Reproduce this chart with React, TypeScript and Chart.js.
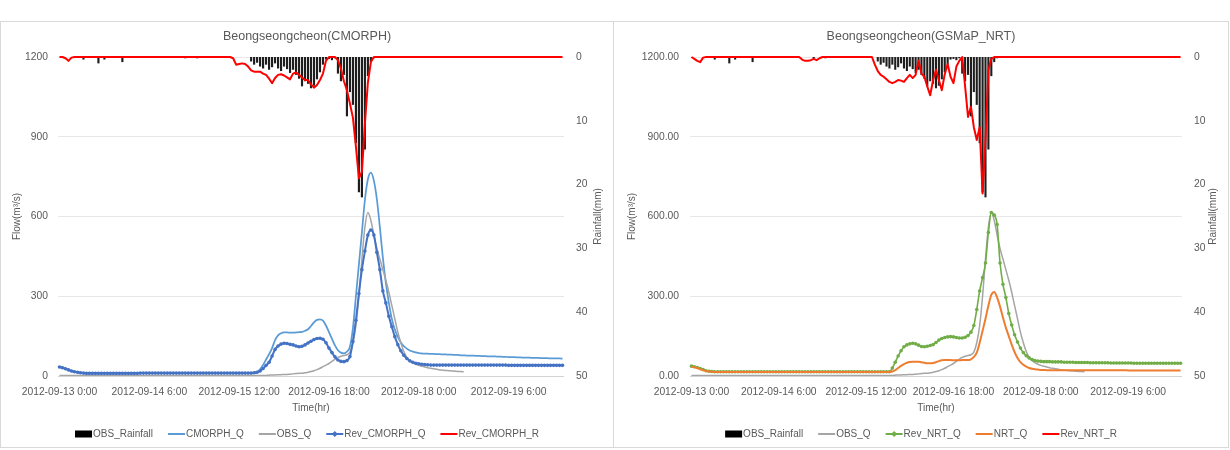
import React, { useEffect, useRef } from 'react';
import { Chart, registerables } from 'chart.js';

Chart.register(...registerables);

const FONT = "'Liberation Sans', Arial, sans-serif";
const TEXT = '#595959';

// hourly categories starting 2012-09-13 0:00 (hour offsets)
const HOURS: number[] = Array.from({ length: 169 }, (_, i) => i);
const TICK_LABELS = [
  '2012-09-13 0:00',
  '2012-09-14 6:00',
  '2012-09-15 12:00',
  '2012-09-16 18:00',
  '2012-09-18 0:00',
  '2012-09-19 6:00',
];
const TICK_EVERY = 30;

const FLOW_TICKS = [0, 300, 600, 900, 1200];
const RAIN_TICKS = [0, 10, 20, 30, 40, 50];

const OBS_RAINFALL = [
  0, 0, 0, 0, 0, 0, 0, 0, 0.4, 0,
  0, 0, 0, 1.0, 0, 0.4, 0, 0, 0, 0,
  0, 0.8, 0, 0, 0, 0, 0, 0, 0, 0,
  0, 0, 0, 0, 0, 0, 0, 0, 0, 0,
  0, 0, 0.2, 0, 0, 0, 0.2, 0, 0, 0,
  0, 0, 0, 0, 0, 0, 0, 0, 0, 0,
  0, 0, 0, 0, 0.7, 1.2, 0.9, 1.5, 1.8, 1.2,
  2.0, 1.6, 1.0, 1.8, 2.2, 1.5, 1.9, 2.5, 2.0, 2.8,
  3.4, 4.6, 3.8, 4.2, 4.9, 4.5, 3.5, 2.4, 1.2, 0.4,
  0.3, 0.5, 0.2, 2.6, 3.8, 2.8, 9.3, 5.5, 7.5, 13.5,
  21.2, 22.0, 14.5, 3.0, 0.8, 0.2, 0, 0, 0, 0,
  0, 0, 0, 0, 0, 0, 0, 0, 0, 0,
  0, 0, 0, 0, 0, 0, 0, 0, 0, 0,
  0, 0, 0, 0, 0, 0, 0, 0, 0, 0,
  0, 0, 0, 0, 0, 0, 0, 0, 0, 0,
  0, 0, 0, 0, 0, 0, 0, 0, 0, 0,
  0, 0, 0, 0, 0, 0, 0, 0, 0,
];

const OBS_Q = [
  2, 2, 2, 2, 2, 2, 2, 2, 2, 2,
  2, 2, 2, 2, 2, 2, 2, 2, 2, 2,
  2, 2, 2, 2, 2, 2, 2, 2, 2, 2,
  2, 2, 2, 2, 2, 2, 2, 2, 2, 2,
  2, 2, 2, 2, 2, 2, 2, 2, 2, 2,
  2, 2, 2, 2, 2, 2, 2, 2, 2, 2,
  2, 2, 2, 2, 2, 2, 2, 2, 2, 2,
  3, 4, 4, 5, 5, 6, 6, 7, 8, 9,
  10, 10, 12, 14, 17, 20, 24, 29, 35, 41,
  47, 55, 63, 70, 74, 77, 80, 90, 125, 190,
  300, 440, 560, 615, 585, 530, 480, 440, 400, 360,
  315, 265, 215, 165, 125, 92, 70, 58, 50, 44,
  40, 37, 34, 31, 29, 27, 25, 23, 22, 21,
  20, 19, 18, 17, 17, 16, null, null, null, null,
  null, null, null, null, null, null, null, null, null, null,
  null, null, null, null, null, null, null, null, null, null,
  null, null, null, null, null, null, null, null, null,
];

const CMORPH_Q = [
  34, 31, 27, 23, 19, 16, 14, 12, 11, 10,
  10, 10, 10, 10, 10, 10, 10, 10, 10, 10,
  10, 10, 10, 10, 10, 10, 10, 11, 11, 11,
  11, 11, 11, 11, 11, 11, 11, 11, 11, 11,
  11, 11, 11, 11, 11, 11, 11, 11, 11, 11,
  11, 11, 11, 11, 11, 11, 11, 11, 11, 11,
  11, 11, 11, 11, 11, 12, 15, 25, 42, 62,
  82, 105, 135, 153, 161, 164, 164, 163, 163, 164,
  165, 166, 170, 176, 188, 202, 211, 213, 208, 190,
  165, 140, 115, 97, 88, 85, 92, 110, 180, 300,
  420, 540, 662, 740, 765, 735, 665, 560, 445, 350,
  275, 215, 175, 147, 126, 112, 103, 96, 92, 89,
  86, 85, 84, 84, 83, 83, 82, 82, 81, 81,
  80, 80, 79, 79, 78, 78, 77, 77, 77, 76,
  76, 75, 75, 74, 74, 74, 73, 73, 72, 72,
  71, 71, 71, 70, 70, 69, 69, 69, 68, 68,
  68, 67, 67, 67, 66, 66, 66, 66, 65,
];

const REV_CMORPH_Q = [
  34, 31, 27, 23, 19, 16, 14, 12, 11, 10,
  10, 10, 10, 10, 10, 10, 10, 10, 10, 10,
  10, 10, 10, 10, 10, 10, 10, 11, 11, 11,
  11, 11, 11, 11, 11, 11, 11, 11, 11, 11,
  11, 11, 11, 11, 11, 11, 11, 11, 11, 11,
  11, 11, 11, 11, 11, 11, 11, 11, 11, 11,
  11, 11, 11, 11, 11, 12, 14, 19, 28, 40,
  52, 75, 100, 113, 120, 123, 122, 119, 117, 113,
  110, 112, 117, 124, 131, 137, 141, 142, 138, 125,
  105, 88, 72, 60, 55, 54, 58, 73, 130, 210,
  310, 400, 470, 530, 549, 530, 465, 400, 320, 275,
  225, 185, 148, 118, 95, 78, 66, 57, 52, 48,
  46, 44, 43, 42, 41, 41, 41, 41, 41, 41,
  41, 41, 41, 41, 41, 41, 41, 41, 41, 41,
  41, 41, 41, 41, 41, 41, 41, 41, 41, 41,
  40, 40, 40, 40, 40, 40, 40, 40, 40, 40,
  40, 40, 40, 40, 40, 40, 40, 40, 40,
];

const REV_CMORPH_R = [
  0, 0, 0.2, 0.6, 0.1, 0, 0, 0, 0, 0,
  0, 0, 0, 0, 0, 0, 0, 0, 0, 0,
  0, 0, 0, 0, 0, 0, 0, 0, 0, 0,
  0, 0, 0, 0, 0, 0, 0, 0, 0, 0,
  0, 0, 0, 0, 0, 0, 0, 0, 0, 0,
  0, 0, 0, 0, 0, 0, 0, 0, 0.2, 1.2,
  1.1, 1.0, 1.1, 1.5, 2.1, 2.3, 2.3, 2.3, 2.6, 2.8,
  3.4, 4.1, 3.3, 2.8, 2.7, 2.9, 3.2, 3.5, 2.6, 2.4,
  2.8, 3.2, 3.6, 3.6, 4.3, 4.8, 4.4, 3.6, 2.6, 0.6,
  0, 0, 0, 0.5, 1.8, 3.8, 5.2, 7.3, 9.5, 14,
  19, 18, 10.5, 4, 0.8, 0, 0, 0, 0, 0,
  0, 0, 0, 0, 0, 0, 0, 0, 0, 0,
  0, 0, 0, 0, 0, 0, 0, 0, 0, 0,
  0, 0, 0, 0, 0, 0, 0, 0, 0, 0,
  0, 0, 0, 0, 0, 0, 0, 0, 0, 0,
  0, 0, 0, 0, 0, 0, 0, 0, 0, 0,
  0, 0, 0, 0, 0, 0, 0, 0, 0,
];

const NRT_Q = [
  35, 33, 30, 26, 22, 19, 17, 16, 15, 15,
  15, 15, 15, 15, 15, 15, 15, 15, 15, 15,
  15, 15, 15, 15, 15, 15, 15, 15, 15, 15,
  15, 15, 15, 15, 15, 15, 15, 15, 15, 15,
  15, 15, 15, 15, 15, 15, 15, 15, 15, 15,
  15, 15, 15, 15, 15, 15, 15, 15, 15, 15,
  15, 15, 15, 15, 15, 15, 15, 15, 15, 17,
  22, 30, 38, 45, 50, 53, 54, 54, 54, 52,
  50, 48, 48, 49, 52, 56, 59, 60, 60, 60,
  59, 59, 59, 60, 60, 60, 63, 72, 88, 125,
  170, 215, 265, 305, 316, 295, 261, 220, 182, 150,
  118, 90, 68, 52, 42, 35, 30, 27, 25, 24,
  23, 23, 22, 22, 22, 22, 22, 22, 22, 22,
  22, 22, 22, 22, 22, 22, 22, 22, 22, 22,
  22, 22, 22, 22, 22, 22, 22, 22, 22, 22,
  21, 21, 21, 21, 21, 21, 21, 21, 21, 21,
  21, 21, 21, 21, 21, 21, 21, 21, 21,
];

const REV_NRT_Q = [
  37, 35, 32, 28, 24, 20, 18, 17, 16, 16,
  16, 16, 16, 16, 16, 16, 16, 16, 16, 16,
  16, 16, 16, 16, 16, 16, 16, 16, 16, 16,
  16, 16, 16, 16, 16, 16, 16, 16, 16, 16,
  16, 16, 16, 16, 16, 16, 16, 16, 16, 16,
  16, 16, 16, 16, 16, 16, 16, 16, 16, 16,
  16, 16, 16, 16, 16, 16, 16, 16, 16, 30,
  52, 75, 95, 110, 117, 121, 123, 121, 116, 111,
  110, 112, 115, 118, 126, 135, 141, 145, 147, 148,
  147, 145, 143, 143, 146, 152, 165, 190, 250, 320,
  370, 425, 540, 615, 605, 570, 425, 345, 295, 235,
  192, 155, 128, 105, 88, 76, 68, 62, 58, 56,
  55, 54, 54, 54, 53, 53, 53, 53, 52, 52,
  52, 52, 51, 51, 51, 51, 51, 50, 50, 50,
  50, 50, 50, 50, 49, 49, 49, 49, 49, 49,
  49, 49, 48, 48, 48, 48, 48, 48, 48, 48,
  48, 48, 48, 48, 48, 48, 48, 48, 48,
];

const REV_NRT_R = [
  0, 0.3, 0.6, 0.8, 0.1, 0, 0, 0, 0, 0,
  0, 0, 0, 0, 0, 0, 0, 0, 0, 0,
  0, 0, 0, 0, 0, 0, 0, 0, 0, 0,
  0, 0, 0, 0, 0, 0, 0, 0, 0.4, 0.6,
  0.6, 0.5, 0.3, 0.5, 0.2, 0, 0, 0, 0, 0,
  0, 0, 0, 0, 0, 0, 0, 0, 0, 0,
  0, 0, 0, 1.2, 2.2, 2.8, 3.1, 3.5, 3.9, 4.1,
  3.9, 3.6, 3.7, 3.9, 3.3, 2.8, 3.3, 2.8, 0.6, 2.6,
  3.1, 4.6, 6.0, 3.6, 2.0, 3.6, 5.2, 2.7, 1.1, 3.1,
  4.1, 1.5, 0.6, 0, 4.6, 9.4, 7.8, 11, 13, 11,
  21.4, 13, 2.0, 0.3, 0, 0, 0, 0, 0, 0,
  0, 0, 0, 0, 0, 0, 0, 0, 0, 0,
  0, 0, 0, 0, 0, 0, 0, 0, 0, 0,
  0, 0, 0, 0, 0, 0, 0, 0, 0, 0,
  0, 0, 0, 0, 0, 0, 0, 0, 0, 0,
  0, 0, 0, 0, 0, 0, 0, 0, 0, 0,
  0, 0, 0, 0, 0, 0, 0, 0, 0,
];

const C_BAR = '#1e1e1e';
const C_CMORPH = '#5B9BD5';
const C_OBS = '#A5A5A5';
const C_REV_CMORPH = '#4472C4';
const C_RED = '#FF0000';
const C_NRT = '#ED7D31';
const C_REV_NRT = '#70AD47';

type LegendItem = { label: string; color: string; kind: 'box' | 'line' | 'marker' };

type PanelSpec = {
  title: string;
  canvasW: number;
  canvasH: number;
  plot: { left: number; right: number; top: number; bottom: number };
  leftTickPad: number;
  flowFmt: (v: number) => string;
  flowTitleX: number;
  rainTitleX: number;
  datasets: any[];
  legend: LegendItem[];
};

function decorPlugin(spec: PanelSpec) {
  return {
    id: 'decor',
    afterDraw(chart: any) {
      const { ctx, chartArea } = chart;
      const W = spec.canvasW;
      ctx.save();
      ctx.fillStyle = TEXT;
      ctx.textBaseline = 'middle';
      ctx.textAlign = 'center';
      ctx.font = `12.5px ${FONT}`;
      ctx.fillText(spec.title, W / 2, 15);

      ctx.font = `10px ${FONT}`;
      ctx.fillText('Time(hr)', (chartArea.left + chartArea.right) / 2, 386);

      const midY = (chartArea.top + chartArea.bottom) / 2;
      ctx.save();
      ctx.translate(spec.flowTitleX, midY);
      ctx.rotate(-Math.PI / 2);
      ctx.fillText('Flow(m³/s)', 0, 0);
      ctx.restore();
      ctx.save();
      ctx.translate(spec.rainTitleX, midY);
      ctx.rotate(-Math.PI / 2);
      ctx.fillText('Rainfall(mm)', 0, 0);
      ctx.restore();

      // legend
      const symW = 17;
      const gap = 15;
      ctx.font = `10px ${FONT}`;
      const widths = spec.legend.map((it) => symW + 1 + ctx.measureText(it.label).width);
      const total = widths.reduce((a, b) => a + b, 0) + gap * (widths.length - 1);
      let x = W / 2 - total / 2;
      const y = 412;
      spec.legend.forEach((it, i) => {
        if (it.kind === 'box') {
          ctx.fillStyle = it.color;
          ctx.fillRect(x, y - 3.5, symW, 7);
        } else {
          ctx.strokeStyle = it.color;
          ctx.lineWidth = 2;
          ctx.beginPath();
          ctx.moveTo(x, y);
          ctx.lineTo(x + symW, y);
          ctx.stroke();
          if (it.kind === 'marker') {
            ctx.fillStyle = it.color;
            ctx.beginPath();
            ctx.moveTo(x + symW / 2, y - 3);
            ctx.lineTo(x + symW / 2 + 3, y);
            ctx.lineTo(x + symW / 2, y + 3);
            ctx.lineTo(x + symW / 2 - 3, y);
            ctx.closePath();
            ctx.fill();
          }
        }
        ctx.fillStyle = TEXT;
        ctx.textAlign = 'left';
        ctx.fillText(it.label, x + symW + 1, y);
        x += widths[i] + gap;
      });
      ctx.restore();
    },
  };
}

function buildConfig(spec: PanelSpec): any {
  const { plot, canvasW, canvasH } = spec;
  return {
    type: 'line',
    data: { labels: HOURS, datasets: spec.datasets },
    options: {
      responsive: false,
      animation: false,
      events: [],
      layout: { autoPadding: false, padding: { top: plot.top, left: 0, right: 0, bottom: 0 } },
      plugins: { legend: { display: false }, title: { display: false }, tooltip: { enabled: false } },
      scales: {
        x: {
          type: 'category',
          offset: true,
          grid: { display: false, drawTicks: false },
          border: { display: false },
          ticks: {
            autoSkip: false,
            maxRotation: 0,
            minRotation: 0,
            padding: 10,
            color: TEXT,
            font: { family: FONT, size: 10.3 },
            callback: (_v: any, i: number) =>
              i % TICK_EVERY === 0 && TICK_LABELS[i / TICK_EVERY] !== undefined
                ? TICK_LABELS[i / TICK_EVERY]
                : null,
          },
          afterFit: (s: any) => {
            s.height = canvasH - plot.bottom;
          },
        },
        y: {
          type: 'linear',
          position: 'left',
          min: FLOW_TICKS[0],
          max: FLOW_TICKS[FLOW_TICKS.length - 1],
          afterBuildTicks: (s: any) => {
            s.ticks = FLOW_TICKS.map((v) => ({ value: v }));
          },
          grid: {
            drawTicks: false,
            color: (c: any) => (c.tick && c.tick.value === 0 ? '#d3d3d3' : '#e7e7e7'),
            lineWidth: 1,
          },
          border: { display: false },
          ticks: {
            padding: spec.leftTickPad,
            color: TEXT,
            font: { family: FONT, size: 10.3 },
            callback: (v: any) => spec.flowFmt(Number(v)),
          },
          afterFit: (s: any) => {
            s.width = plot.left;
          },
        },
        y1: {
          type: 'linear',
          position: 'right',
          reverse: true,
          min: RAIN_TICKS[0],
          max: RAIN_TICKS[RAIN_TICKS.length - 1],
          afterBuildTicks: (s: any) => {
            s.ticks = RAIN_TICKS.map((v) => ({ value: v }));
          },
          grid: { display: false, drawTicks: false },
          border: { display: false },
          ticks: {
            padding: 12,
            color: TEXT,
            font: { family: FONT, size: 10.3 },
            callback: (v: any) => String(v),
          },
          afterFit: (s: any) => {
            s.width = canvasW - plot.right;
          },
        },
      },
    },
    plugins: [decorPlugin(spec)],
  };
}

const barSet = (label: string, data: number[]) => ({
  type: 'bar',
  label,
  data,
  yAxisID: 'y1',
  backgroundColor: C_BAR,
  borderWidth: 0,
  inflateAmount: 0,
  barPercentage: 1,
  categoryPercentage: 0.72,
  order: 5,
});

const flowLine = (label: string, data: any[], color: string, width: number, order: number, markers = 0) => ({
  type: 'line',
  label,
  data,
  yAxisID: 'y',
  borderColor: color,
  backgroundColor: color,
  borderWidth: width,
  pointRadius: markers,
  pointBorderWidth: 0,
  pointBackgroundColor: color,
  cubicInterpolationMode: 'monotone',
  fill: false,
  spanGaps: false,
  order,
});

const rainLine = (label: string, data: number[]) => ({
  type: 'line',
  label,
  data,
  yAxisID: 'y1',
  borderColor: C_RED,
  backgroundColor: C_RED,
  borderWidth: 2,
  pointRadius: 0,
  tension: 0,
  borderJoinStyle: 'round',
  fill: false,
  clip: false,
  order: 1,
});

const LEFT_SPEC: PanelSpec = {
  title: 'Beongseongcheon(CMORPH)',
  canvasW: 612,
  canvasH: 425,
  plot: { left: 57, right: 563, top: 35, bottom: 354 },
  leftTickPad: 10,
  flowFmt: (v) => String(v),
  flowTitleX: 16,
  rainTitleX: 597,
  datasets: [
    barSet('OBS_Rainfall', OBS_RAINFALL),
    flowLine('CMORPH_Q', CMORPH_Q, C_CMORPH, 1.75, 4),
    flowLine('OBS_Q', OBS_Q, C_OBS, 1.5, 3),
    flowLine('Rev_CMORPH_Q', REV_CMORPH_Q, C_REV_CMORPH, 2, 2, 1.8),
    rainLine('Rev_CMORPH_R', REV_CMORPH_R),
  ],
  legend: [
    { label: 'OBS_Rainfall', color: '#000000', kind: 'box' },
    { label: 'CMORPH_Q', color: C_CMORPH, kind: 'line' },
    { label: 'OBS_Q', color: C_OBS, kind: 'line' },
    { label: 'Rev_CMORPH_Q', color: C_REV_CMORPH, kind: 'marker' },
    { label: 'Rev_CMORPH_R', color: C_RED, kind: 'line' },
  ],
};

const RIGHT_SPEC: PanelSpec = {
  title: 'Beongseongcheon(GSMaP_NRT)',
  canvasW: 614,
  canvasH: 425,
  plot: { left: 76, right: 568, top: 35, bottom: 354 },
  leftTickPad: 11,
  flowFmt: (v) => v.toFixed(2),
  flowTitleX: 18,
  rainTitleX: 599,
  datasets: [
    barSet('OBS_Rainfall', OBS_RAINFALL),
    flowLine('OBS_Q', OBS_Q, C_OBS, 1.5, 4),
    flowLine('Rev_NRT_Q', REV_NRT_Q, C_REV_NRT, 1.6, 3, 1.8),
    flowLine('NRT_Q', NRT_Q, C_NRT, 2, 2),
    rainLine('Rev_NRT_R', REV_NRT_R),
  ],
  legend: [
    { label: 'OBS_Rainfall', color: '#000000', kind: 'box' },
    { label: 'OBS_Q', color: C_OBS, kind: 'line' },
    { label: 'Rev_NRT_Q', color: C_REV_NRT, kind: 'marker' },
    { label: 'NRT_Q', color: C_NRT, kind: 'line' },
    { label: 'Rev_NRT_R', color: C_RED, kind: 'line' },
  ],
};

function Panel({ spec, left, top }: { spec: PanelSpec; left: number; top: number }) {
  const ref = useRef<HTMLCanvasElement>(null);
  useEffect(() => {
    if (!ref.current) return;
    const chart = new Chart(ref.current, buildConfig(spec));
    return () => chart.destroy();
  }, [spec]);
  return (
    <canvas
      ref={ref}
      width={spec.canvasW}
      height={spec.canvasH}
      style={{ position: 'absolute', left, top, width: spec.canvasW, height: spec.canvasH }}
    />
  );
}

export default function App() {
  return (
    <div
      style={{
        position: 'fixed',
        left: 0,
        top: 0,
        width: 1230,
        height: 450,
        background: '#ffffff',
        overflow: 'hidden',
      }}
    >
      <div
        style={{
          position: 'absolute',
          left: 0,
          top: 21,
          width: 614,
          height: 427,
          border: '1px solid #d9d9d9',
          boxSizing: 'border-box',
        }}
      />
      <div
        style={{
          position: 'absolute',
          left: 613,
          top: 21,
          width: 616,
          height: 427,
          border: '1px solid #d9d9d9',
          boxSizing: 'border-box',
        }}
      />
      <Panel spec={LEFT_SPEC} left={1} top={22} />
      <Panel spec={RIGHT_SPEC} left={614} top={22} />
    </div>
  );
}
